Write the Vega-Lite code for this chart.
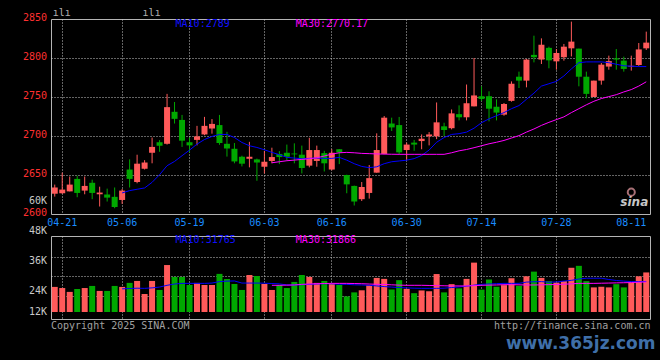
{
  "$schema": "https://vega.github.io/schema/vega-lite/v6.json",
  "background": "#000000",
  "padding": {"left": 22, "top": 7, "right": 11, "bottom": 8},
  "bounds": "flush",
  "spacing": 22,
  "config": {
    "view": {"stroke": "#b4b4b4", "strokeWidth": 1},
    "font": "DejaVu Sans Mono",
    "text": {"font": "DejaVu Sans Mono", "fontSize": 10},
    "axis": {"labelFont": "DejaVu Sans Mono", "labelFontSize": 10, "domain": false, "ticks": false, "tickSize": 0, "gridColor": "#c8c8c8", "gridDash": [1, 2], "gridWidth": 1, "titleFont": "DejaVu Sans Mono", "labelOverlap": false, "labelFlush": false}
  },
  "title": {"text": "www.365jz.com", "orient": "bottom", "anchor": "end", "font": "DejaVu Sans", "fontSize": 17, "fontWeight": "bold", "color": "#3f6fa8", "offset": 4, "dx": 5},
  "datasets": {
    "k": [
      {"d":"04-18","o":2626,"h":2637.7,"l":2622.3,"c":2634,"v":29400},
      {"d":"04-21","o":2626.6,"h":2653,"l":2626,"c":2631.3,"v":28700},
      {"d":"04-22","o":2629,"h":2648,"l":2629,"c":2637.7,"v":26300},
      {"d":"04-23","o":2645,"h":2649,"l":2621.5,"c":2627,"v":28100},
      {"d":"04-24","o":2630,"h":2648,"l":2625.3,"c":2636,"v":28700},
      {"d":"04-25","o":2640,"h":2644,"l":2619,"c":2627,"v":30000},
      {"d":"04-28","o":2625.3,"h":2635,"l":2609.6,"c":2627.5,"v":26900},
      {"d":"04-29","o":2625,"h":2632.5,"l":2616,"c":2621,"v":26900},
      {"d":"04-30","o":2622,"h":2634,"l":2607.4,"c":2609,"v":30000},
      {"d":"05-06","o":2618,"h":2632,"l":2613,"c":2630,"v":29400,"m10":2627,"vm10":28200},
      {"d":"05-07","o":2657,"h":2670,"l":2634,"c":2645,"v":31900,"m10":2630,"vm10":28400},
      {"d":"05-08","o":2641,"h":2676,"l":2639.4,"c":2664.5,"v":33100,"m10":2631.7,"vm10":28600},
      {"d":"05-09","o":2658,"h":2669,"l":2657,"c":2666,"v":25000,"m10":2633.4,"vm10":28500},
      {"d":"05-12","o":2678.5,"h":2698,"l":2665,"c":2686,"v":33100,"m10":2640.6,"vm10":28800},
      {"d":"05-13","o":2692,"h":2694.7,"l":2679.8,"c":2687.5,"v":27500,"m10":2650.4,"vm10":29300},
      {"d":"05-14","o":2690,"h":2754,"l":2689,"c":2737,"v":43000,"m10":2661.9,"vm10":30400},
      {"d":"05-15","o":2731,"h":2743.6,"l":2716,"c":2722,"v":35600,"m10":2667.4,"vm10":31200},
      {"d":"05-16","o":2720.6,"h":2727,"l":2686,"c":2694,"v":35600,"m10":2674.7,"vm10":31600},
      {"d":"05-19","o":2692,"h":2698,"l":2679,"c":2688,"v":30600,"m10":2681.9,"vm10":31600},
      {"d":"05-20","o":2695,"h":2713,"l":2688,"c":2699.5,"v":31900,"m10":2689.6,"vm10":31600},
      {"d":"05-21","o":2702,"h":2724.5,"l":2701,"c":2713,"v":30600,"m10":2695.5,"vm10":31600},
      {"d":"05-22","o":2709.6,"h":2721.7,"l":2703,"c":2715.5,"v":30600,"m10":2699.4,"vm10":31800},
      {"d":"05-23","o":2714,"h":2727,"l":2688.7,"c":2691,"v":37500,"m10":2702,"vm10":32700},
      {"d":"05-26","o":2690,"h":2705.3,"l":2673.6,"c":2684,"v":34300,"m10":2702,"vm10":33000},
      {"d":"05-27","o":2683.6,"h":2691,"l":2665,"c":2667.4,"v":31200,"m10":2698,"vm10":33100},
      {"d":"05-28","o":2673.4,"h":2674.7,"l":2661,"c":2664.5,"v":27500,"m10":2691.7,"vm10":31800},
      {"d":"05-29","o":2670.8,"h":2692.5,"l":2659.8,"c":2673.4,"v":36800,"m10":2687.5,"vm10":31800},
      {"d":"05-30","o":2670,"h":2671,"l":2642.6,"c":2666,"v":36200,"m10":2685.3,"vm10":31800},
      {"d":"06-03","o":2660.6,"h":2681,"l":2652,"c":2667,"v":31200,"m10":2682.3,"vm10":31700},
      {"d":"06-04","o":2668,"h":2685,"l":2665,"c":2673,"v":27500,"m10":2679,"m30":2665.7,"vm10":31500,"vm30":30400},
      {"d":"06-05","o":2677,"h":2680.6,"l":2664,"c":2673,"v":30600,"m10":2676,"m30":2667,"vm10":31300,"vm30":30400},
      {"d":"06-06","o":2678.5,"h":2689,"l":2668.5,"c":2673.4,"v":28700,"m10":2672.6,"m30":2668.3,"vm10":30600,"vm30":30500},
      {"d":"06-09","o":2677.5,"h":2690.6,"l":2665,"c":2676.5,"v":32500,"m10":2671.7,"m30":2669.1,"vm10":30600,"vm30":30600},
      {"d":"06-10","o":2676,"h":2687.7,"l":2652,"c":2659,"v":36800,"m10":2670.8,"m30":2670,"vm10":30800,"vm30":31000},
      {"d":"06-11","o":2662,"h":2697.7,"l":2659.8,"c":2682,"v":35600,"m10":2671.3,"m30":2670.8,"vm10":31000,"vm30":31200},
      {"d":"06-12","o":2668,"h":2687.7,"l":2660.6,"c":2682,"v":31900,"m10":2671.7,"m30":2672.1,"vm10":31200,"vm30":31400},
      {"d":"06-13","o":2678,"h":2681,"l":2654.5,"c":2665,"v":33100,"m10":2671.3,"m30":2674.3,"vm10":31400,"vm30":31500},
      {"d":"06-16","o":2657,"h":2683,"l":2656,"c":2678.5,"v":31200,"m10":2671.3,"m30":2676.8,"vm10":31300,"vm30":31600},
      {"d":"06-17","o":2683,"h":2683.2,"l":2664,"c":2679,"v":30600,"m10":2672.6,"m30":2678.5,"vm10":31100,"vm30":31600},
      {"d":"06-18","o":2650,"h":2650.4,"l":2626.6,"c":2638,"v":23500,"m10":2669,"m30":2679,"vm10":31000,"vm30":31600},
      {"d":"06-19","o":2636,"h":2636.4,"l":2610.9,"c":2616,"v":26000,"m10":2664.5,"m30":2678.5,"vm10":30700,"vm30":31500},
      {"d":"06-20","o":2619,"h":2641,"l":2616.7,"c":2634.6,"v":27300,"m10":2661,"m30":2677.7,"vm10":30600,"vm30":31400},
      {"d":"06-23","o":2627,"h":2662.8,"l":2619.7,"c":2646,"v":30500,"m10":2659.4,"m30":2677.4,"vm10":30400,"vm30":31200},
      {"d":"06-24","o":2653,"h":2703.4,"l":2653,"c":2682,"v":35000,"m10":2660.5,"m30":2677,"vm10":30000,"vm30":31000},
      {"d":"06-25","o":2677,"h":2725.6,"l":2676.5,"c":2723.5,"v":34400,"m10":2664.5,"m30":2676.8,"vm10":29600,"vm30":30900},
      {"d":"06-26","o":2716,"h":2723.5,"l":2706.4,"c":2711,"v":27800,"m10":2667,"m30":2676.6,"vm10":29300,"vm30":30700},
      {"d":"06-27","o":2714,"h":2724.4,"l":2676.5,"c":2679,"v":33600,"m10":2668,"m30":2676.5,"vm10":29000,"vm30":30500},
      {"d":"06-30","o":2682,"h":2691.5,"l":2669,"c":2689,"v":28200,"m10":2669,"m30":2676.5,"vm10":28800,"vm30":30400},
      {"d":"07-01","o":2691.5,"h":2695,"l":2681,"c":2689,"v":25500,"m10":2671,"m30":2676.5,"vm10":28600,"vm30":30400},
      {"d":"07-02","o":2693.5,"h":2702,"l":2683,"c":2696.5,"v":27200,"m10":2675,"m30":2676.5,"vm10":28500,"vm30":30400},
      {"d":"07-03","o":2699.6,"h":2705,"l":2688,"c":2702,"v":26700,"m10":2682,"m30":2676.5,"vm10":28500,"vm30":30300},
      {"d":"07-04","o":2699.6,"h":2743,"l":2696,"c":2717.5,"v":37400,"m10":2692,"m30":2676.5,"vm10":28500,"vm30":30200},
      {"d":"07-07","o":2712.4,"h":2717,"l":2700,"c":2707.7,"v":26000,"m10":2698,"m30":2676.5,"vm10":28600,"vm30":30100},
      {"d":"07-08","o":2710,"h":2734,"l":2708.5,"c":2729,"v":31100,"m10":2702,"m30":2678.5,"vm10":29000,"vm30":30000},
      {"d":"07-09","o":2728,"h":2739.3,"l":2720,"c":2724,"v":28500,"m10":2703,"m30":2681,"vm10":29400,"vm30":30000},
      {"d":"07-10","o":2724,"h":2766,"l":2720,"c":2742,"v":34400,"m10":2705,"m30":2682.7,"vm10":29800,"vm30":30000},
      {"d":"07-11","o":2738,"h":2800,"l":2738,"c":2752,"v":44500,"m10":2710,"m30":2685,"vm10":30500,"vm30":30200},
      {"d":"07-14","o":2751,"h":2763.7,"l":2745,"c":2747.5,"v":27700,"m10":2717,"m30":2687.5,"vm10":31000,"vm30":30400},
      {"d":"07-15","o":2751,"h":2757.3,"l":2718.8,"c":2735,"v":34000,"m10":2722,"m30":2690,"vm10":31200,"vm30":30500},
      {"d":"07-16","o":2737.5,"h":2747,"l":2720,"c":2730,"v":29500,"m10":2726,"m30":2692,"vm10":31400,"vm30":30600},
      {"d":"07-17","o":2727.4,"h":2742.3,"l":2726,"c":2741,"v":30500,"m10":2730,"m30":2694.3,"vm10":31600,"vm30":30800},
      {"d":"07-18","o":2745,"h":2770,"l":2744,"c":2767,"v":34800,"m10":2735,"m30":2697.4,"vm10":31600,"vm30":30800},
      {"d":"07-21","o":2776,"h":2782.5,"l":2761.5,"c":2771,"v":30100,"m10":2739,"m30":2700.5,"vm10":31600,"vm30":30700},
      {"d":"07-22","o":2771,"h":2798.7,"l":2762.4,"c":2798,"v":36000,"m10":2747,"m30":2705,"vm10":32400,"vm30":30600},
      {"d":"07-23","o":2804,"h":2828.6,"l":2794.4,"c":2801,"v":38900,"m10":2755,"m30":2709,"vm10":32600,"vm30":30600},
      {"d":"07-24","o":2798,"h":2825.2,"l":2792.3,"c":2817,"v":35000,"m10":2764,"m30":2713.6,"vm10":32700,"vm30":30700},
      {"d":"07-25","o":2813,"h":2814.5,"l":2786.8,"c":2797,"v":33000,"m10":2767,"m30":2717.5,"vm10":32300,"vm30":30800},
      {"d":"07-28","o":2795.7,"h":2811.5,"l":2785,"c":2806.4,"v":32100,"m10":2770,"m30":2721,"vm10":32500,"vm30":30900},
      {"d":"07-29","o":2801,"h":2818,"l":2796.6,"c":2814.5,"v":33000,"m10":2777,"m30":2724.5,"vm10":33000,"vm30":31100},
      {"d":"07-30","o":2812.4,"h":2846.6,"l":2802,"c":2821,"v":41300,"m10":2786,"m30":2730,"vm10":33500,"vm30":31300},
      {"d":"07-31","o":2812,"h":2812,"l":2763.7,"c":2776,"v":42500,"m10":2794,"m30":2735,"vm10":34300,"vm30":31600},
      {"d":"08-01","o":2776,"h":2782.5,"l":2748.3,"c":2754,"v":33000,"m10":2795,"m30":2740,"vm10":34800,"vm30":31600},
      {"d":"08-04","o":2750,"h":2771,"l":2750,"c":2771,"v":29100,"m10":2795,"m30":2744.5,"vm10":34800,"vm30":31600},
      {"d":"08-05","o":2771,"h":2793.6,"l":2765.8,"c":2791.5,"v":29500,"m10":2795,"m30":2748,"vm10":34800,"vm30":31700},
      {"d":"08-06","o":2789,"h":2803,"l":2785,"c":2796,"v":29100,"m10":2794,"m30":2750.5,"vm10":34000,"vm30":31800},
      {"d":"08-07","o":2799.6,"h":2811.5,"l":2785,"c":2798,"v":31100,"m10":2792,"m30":2753,"vm10":33400,"vm30":31900},
      {"d":"08-08","o":2796.6,"h":2801.7,"l":2782.5,"c":2786,"v":29100,"m10":2790,"m30":2756.5,"vm10":33000,"vm30":32000},
      {"d":"08-11","o":2789,"h":2803,"l":2783.8,"c":2790,"v":32100,"m10":2789.5,"m30":2759.5,"vm10":32700,"vm30":32100},
      {"d":"08-12","o":2791,"h":2819.2,"l":2790,"c":2811,"v":36000,"m10":2789,"m30":2764,"vm10":32700,"vm30":32300},
      {"d":"08-13","o":2812.4,"h":2833.8,"l":2810.3,"c":2819.7,"v":38400,"m10":2789,"m30":2769.5,"vm10":32800,"vm30":32500}
    ]
  },
  "vconcat": [
    {
      "width": 599,
      "height": 195,
      "data": {"name": "k"},
      "encoding": {
        "x": {
          "field": "d", "type": "ordinal", "sort": "ascending",
          "scale": {"type": "band", "paddingInner": 0, "paddingOuter": 0},
          "axis": {
            "values": ["04-21","05-06","05-19","06-03","06-16","06-30","07-14","07-28","08-11"],
            "title": null, "labelAngle": 0, "labelColor": "#1a8cff", "labelPadding": 3,
            "grid": true, "bandPosition": 0.5, "labelOverlap": false,
            "gridOpacity": {"condition": {"test": "datum.value == '08-11'", "value": 0}, "value": 1}
          }
        }
      },
      "layer": [
        {
          "mark": {"type": "rule", "strokeWidth": 1},
          "encoding": {
            "y": {
              "field": "l", "type": "quantitative",
              "scale": {"domain": [2600, 2850], "nice": false, "zero": false},
              "axis": {
                "values": [2650, 2700, 2750, 2800],
                "labels": false, "title": null, "grid": true
              }
            },
            "y2": {"field": "h"},
            "color": {"condition": {"test": "datum.c >= datum.o", "value": "#ff5a5a"}, "value": "#00a800"}
          }
        },
        {
          "mark": {"type": "bar", "size": 6},
          "encoding": {
            "y": {"field": "o", "type": "quantitative"},
            "y2": {"field": "c"},
            "color": {"condition": {"test": "datum.c >= datum.o", "value": "#ff5a5a"}, "value": "#00a800"}
          }
        },
        {
          "mark": {"type": "line", "color": "#0000ff", "strokeWidth": 1},
          "encoding": {"y": {"field": "m10", "type": "quantitative"}}
        },
        {
          "mark": {"type": "line", "color": "#ff00ff", "strokeWidth": 1},
          "encoding": {"y": {"field": "m30", "type": "quantitative"}}
        },
        {
          "data": {"values": [{"p": 2850}, {"p": 2800}, {"p": 2750}, {"p": 2700}, {"p": 2650}, {"p": 2600}]},
          "mark": {"type": "text", "align": "right", "baseline": "middle", "color": "#ff3030", "dx": -7.7, "dy": -1},
          "encoding": {
            "x": {"datum": "04-18", "type": "ordinal"},
            "y": {"field": "p", "type": "quantitative"},
            "text": {"field": "p", "type": "quantitative", "format": "d"}
          }
        },
        {
          "data": {"values": [{}]},
          "mark": {"type": "text", "text": "60K", "align": "right", "baseline": "middle", "color": "#c8c8c8", "dx": -7.7},
          "encoding": {"x": {"datum": "04-18", "type": "ordinal"}, "y": {"datum": 2616.7, "type": "quantitative"}}
        },
        {
          "data": {"values": [{}]},
          "mark": {"type": "text", "text": "MA10:2789", "align": "left", "baseline": "middle", "color": "#1010ff", "dx": 1},
          "encoding": {"x": {"datum": "05-15", "type": "ordinal"}, "y": {"datum": 2843, "type": "quantitative"}}
        },
        {
          "data": {"values": [{}]},
          "mark": {"type": "text", "text": "MA30:2770.17", "align": "left", "baseline": "middle", "color": "#ff00ff", "dx": 1.5},
          "encoding": {"x": {"datum": "06-09", "type": "ordinal"}, "y": {"datum": 2843, "type": "quantitative"}}
        },
        {
          "data": {"values": [{}]},
          "mark": {"type": "text", "text": "ılı", "align": "left", "baseline": "middle", "color": "#b0b0b0", "dx": -2},
          "encoding": {"x": {"datum": "04-18", "type": "ordinal"}, "y": {"datum": 2858, "type": "quantitative"}}
        },
        {
          "data": {"values": [{}]},
          "mark": {"type": "text", "text": "ılı", "align": "left", "baseline": "middle", "color": "#b0b0b0", "dx": -2},
          "encoding": {"x": {"datum": "05-09", "type": "ordinal"}, "y": {"datum": 2858, "type": "quantitative"}}
        },
        {
          "data": {"values": [{}]},
          "mark": {"type": "text", "text": "sina", "align": "center", "baseline": "middle", "color": "#c8c8c8", "font": "DejaVu Sans", "fontSize": 12, "fontWeight": "bold", "fontStyle": "italic", "dx": 3},
          "encoding": {"x": {"datum": "08-11", "type": "ordinal"}, "y": {"datum": 2616, "type": "quantitative"}}
        },
        {
          "data": {"values": [{}]},
          "mark": {"type": "point", "shape": "circle", "size": 50, "filled": false, "color": "#f0a0a8", "strokeWidth": 2},
          "encoding": {"x": {"datum": "08-11", "type": "ordinal"}, "y": {"datum": 2628, "type": "quantitative"}}
        }
      ]
    },
    {
      "width": 599,
      "height": 83,
      "data": {"name": "k"},
      "title": {"text": "Copyright 2025 SINA.COM", "orient": "bottom", "anchor": "start", "frame": "group", "offset": -9, "color": "#a0a0a0", "font": "DejaVu Sans Mono", "fontSize": 10, "fontWeight": "normal"},
      "encoding": {
        "x": {
          "field": "d", "type": "ordinal", "sort": "ascending",
          "scale": {"type": "band", "paddingInner": 0, "paddingOuter": 0},
          "axis": {
            "values": ["04-21","05-06","05-19","06-03","06-16","06-30","07-14","07-28","08-11"],
            "labels": false, "grid": true, "bandPosition": 0.5,
            "gridOpacity": {"condition": {"test": "datum.value == '08-11'", "value": 0}, "value": 1},
            "title": "http://finance.sina.com.cn", "titleAnchor": "end", "titleColor": "#a0a0a0",
            "titleFontSize": 10, "titleFontWeight": "normal", "titleFont": "DejaVu Sans Mono", "titlePadding": 1
          }
        }
      },
      "layer": [
        {
          "mark": {"type": "bar", "size": 6},
          "encoding": {
            "y": {
              "field": "v", "type": "quantitative",
              "scale": {"domain": [9440, 61060], "nice": false, "zero": false},
              "axis": {"values": [24000, 36000, 48000], "labels": false, "title": null, "grid": true}
            },
            "y2": {"datum": 13800},
            "color": {"condition": {"test": "datum.c >= datum.o", "value": "#ff5a5a"}, "value": "#00a800"}
          }
        },
        {
          "mark": {"type": "line", "color": "#0000ff", "strokeWidth": 1},
          "encoding": {"y": {"field": "vm10", "type": "quantitative"}}
        },
        {
          "mark": {"type": "line", "color": "#ff00ff", "strokeWidth": 1},
          "encoding": {"y": {"field": "vm30", "type": "quantitative"}}
        },
        {
          "data": {"values": [{}]},
          "mark": {"type": "text", "text": "48K", "align": "right", "baseline": "middle", "color": "#c8c8c8", "dx": -7.7, "dy": -26},
          "encoding": {"x": {"datum": "04-18", "type": "ordinal"}, "y": {"datum": 48000, "type": "quantitative"}}
        },
        {
          "data": {"values": [{}]},
          "mark": {"type": "text", "text": "36K", "align": "right", "baseline": "middle", "color": "#c8c8c8", "dx": -7.7, "dy": -15},
          "encoding": {"x": {"datum": "04-18", "type": "ordinal"}, "y": {"datum": 36000, "type": "quantitative"}}
        },
        {
          "data": {"values": [{}]},
          "mark": {"type": "text", "text": "24K", "align": "right", "baseline": "middle", "color": "#c8c8c8", "dx": -7.7, "dy": -5},
          "encoding": {"x": {"datum": "04-18", "type": "ordinal"}, "y": {"datum": 24000, "type": "quantitative"}}
        },
        {
          "data": {"values": [{}]},
          "mark": {"type": "text", "text": "12K", "align": "right", "baseline": "middle", "color": "#c8c8c8", "dx": -7.7, "dy": -3},
          "encoding": {"x": {"datum": "04-18", "type": "ordinal"}, "y": {"datum": 12000, "type": "quantitative"}}
        },
        {
          "data": {"values": [{}]},
          "mark": {"type": "text", "text": "MA10:31765", "align": "left", "baseline": "middle", "color": "#1010ff", "dx": 1},
          "encoding": {"x": {"datum": "05-15", "type": "ordinal"}, "y": {"datum": 58570, "type": "quantitative"}}
        },
        {
          "data": {"values": [{}]},
          "mark": {"type": "text", "text": "MA30:31866", "align": "left", "baseline": "middle", "color": "#ff00ff", "dx": 1.5},
          "encoding": {"x": {"datum": "06-09", "type": "ordinal"}, "y": {"datum": 58570, "type": "quantitative"}}
        }
      ]
    }
  ]
}
